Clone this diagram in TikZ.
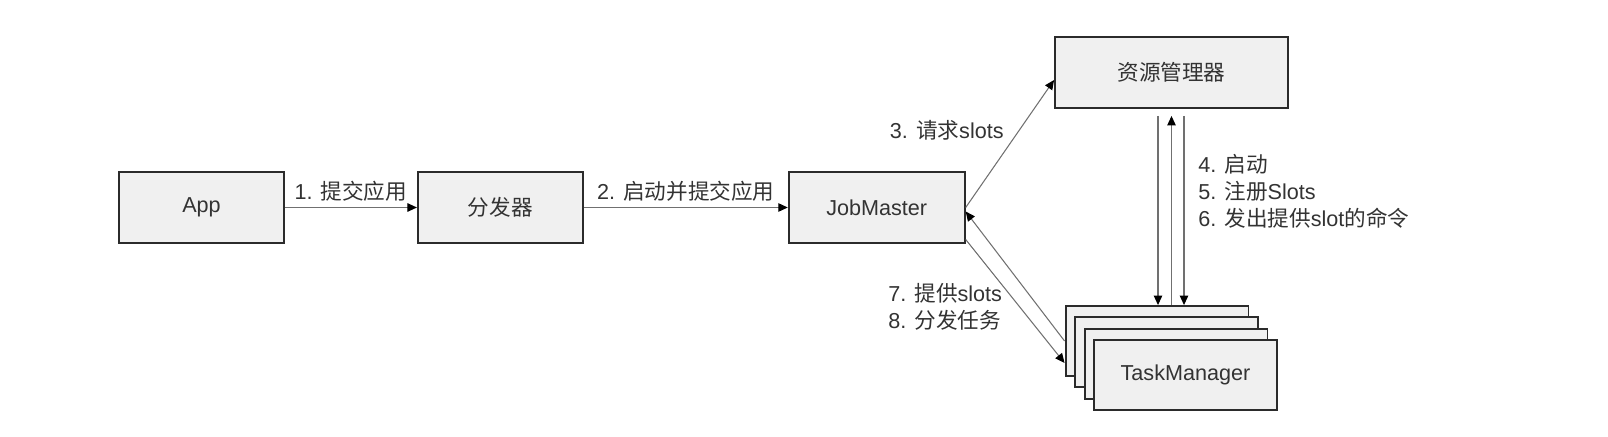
\documentclass[tikz,border=0pt]{standalone}
\usepackage{fontspec}
\setmainfont{Liberation Sans}
\newfontfamily\cjk{Noto Sans CJK SC}
\usepackage{tikz}
\usetikzlibrary{positioning, arrows.meta, calc}

\definecolor{boxfill}{HTML}{F0F0F0}
\definecolor{boxline}{HTML}{2B2B2B}
\definecolor{flowline}{HTML}{707070}
\definecolor{txt}{HTML}{333333}

\tikzset{
  box/.style={draw=boxline, line width=1.1pt, fill=boxfill,
    minimum width=3.3cm, minimum height=1.42cm, inner sep=0pt,
    text=txt, font=\fontsize{12.3}{15.4}\selectfont},
  flow/.style={draw=flowline, line width=0.6pt,
    -{Triangle[length=0.19cm,width=0.17cm,color=black]}},
  lbl/.style={inner sep=0pt, text=txt, font=\fontsize{12.3}{15.4}\selectfont}
}

\begin{document}
\begin{tikzpicture}[x=0.02cm, y=-0.02cm]
        \useasboundingbox (0,0) rectangle (1608,436);
        \node[box] (app) at (201.5,207.5) {App};
        \node[box, right=2.64cm of app] (dist) {{\cjk 分发器}};
        \node[box, minimum width=3.52cm, right=4.08cm of dist] (jm) {JobMaster};
        \node[box, minimum width=4.66cm] (rm) at (1171.5,72.5) {{\cjk 资源管理器}};
        \foreach \i in {1,...,3}
          \node[box, minimum width=3.66cm, minimum height=1.4cm] (tm\i)
            at ({1157+9.5*(\i-1)},{341+11.3*(\i-1)}) {};
        \node[box, minimum width=3.66cm, minimum height=1.4cm] (tm4)
          at (1185.5,375) {TaskManager};

        \draw[flow] (app) -- node[lbl, above=0.12cm] (l1) {1. {\cjk 提交应用}} (dist);
        \draw[flow] (dist) -- node[lbl, above=0.12cm] (l2) {2. {\cjk 启动并提交应用}} (jm);
        \draw[flow] (jm.east) -- ([yshift=-0.15cm]rm.west);
        \node[lbl, anchor=east] (l3) at (1004,130) {3. {\cjk 请求}slots};

        \coordinate (v1) at ([xshift=-0.27cm,yshift=-0.14cm]rm.south);
        \coordinate (v2) at ([yshift=-0.14cm]rm.south);
        \coordinate (v3) at ([xshift=0.25cm,yshift=-0.14cm]rm.south);
        \draw[flow] (v1) -- (v1 |- tm1.north);
        \draw[flow] (v2 |- tm1.north) -- (v2);
        \draw[flow] (v3) -- (v3 |- tm1.north);
        \node[lbl, anchor=west, align=left] (l4) at (1198,191)
          {4. {\cjk 启动}\\5. {\cjk 注册}Slots\\6. {\cjk 发出提供}slot{\cjk 的命令}};

        \draw[flow] (tm1.west) -- ([yshift=-0.08cm]jm.east);
        \draw[flow] ([yshift=-0.64cm]jm.east) -- ([yshift=-0.44cm]tm1.west);
        \node[lbl, anchor=west, align=left] (l7) at (888,306.5)
          {7. {\cjk 提供}slots\\8. {\cjk 分发任务}};
\end{tikzpicture}
\end{document}
